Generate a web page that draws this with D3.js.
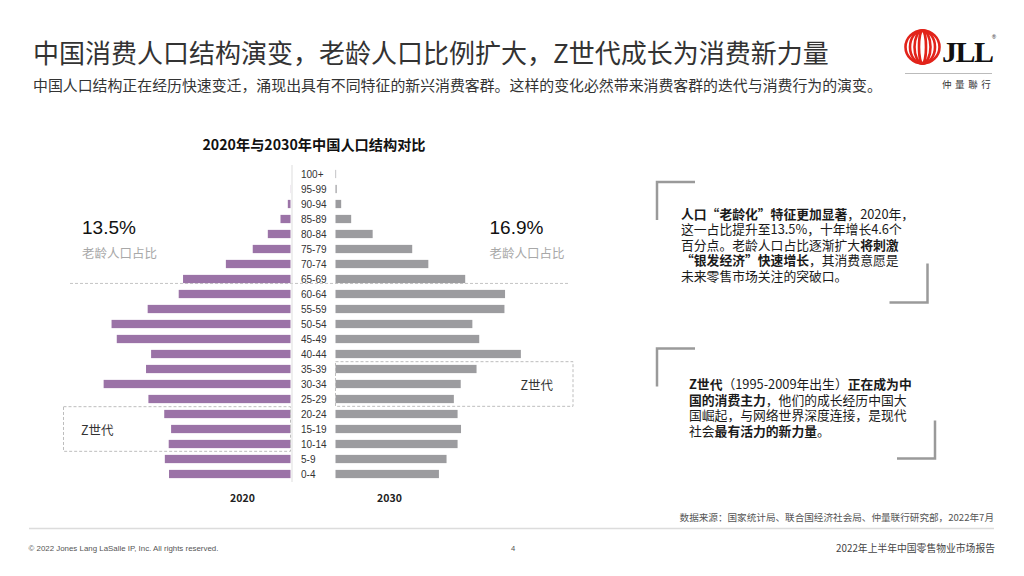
<!DOCTYPE html>
<html><head><meta charset="utf-8">
<script src="https://cdn.jsdelivr.net/npm/d3@7"></script>
<style>body{margin:0;background:#fff} svg{display:block}</style>
</head><body>
<svg id="c" width="1024" height="576"></svg>
<script>
// ---------- data ----------
const ageGroups = ["100+","95-99","90-94","85-89","80-84","75-79","70-74","65-69","60-64","55-59","50-54","45-49","40-44","35-39","30-34","25-29","20-24","15-19","10-14","5-9","0-4"];
const pop2020 = [0.0, 0.1, 1.8, 6.7, 15.2, 25.3, 43.3, 72.0, 74.9, 95.7, 119.9, 116.4, 93.4, 96.8, 125.2, 95.2, 84.6, 80.0, 81.6, 84.2, 81.4];
const pop2030 = [0.4, 0.8, 3.8, 10.5, 24.9, 51.4, 62.2, 86.9, 113.6, 113.2, 91.7, 96.3, 124.2, 94.5, 83.9, 79.3, 81.8, 84.1, 81.8, 74.4, 69.3];
const yearLabels = ["2020", "2030"];
const elderShare = ["13.5%", "16.9%"];
const elderLabel = "老龄人口占比";
const genZLabel = "Z世代";
const genZ2020 = ["20-24", "10-14"];
const genZ2030 = ["35-39", "25-29"];
const elderlyFrom = "65-69";

const title = "中国消费人口结构演变，老龄人口比例扩大，Z世代成长为消费新力量";
const subtitle = "中国人口结构正在经历快速变迁，涌现出具有不同特征的新兴消费客群。这样的变化必然带来消费客群的迭代与消费行为的演变。";
const chartTitle = "2020年与2030年中国人口结构对比";
const box1Lines = [
  [["人口“老龄化”特征更加显著", 1], ["，2020年，", 0]],
  [["这一占比提升至13.5%，十年增长4.6个", 0]],
  [["百分点。老龄人口占比逐渐扩大", 0], ["将刺激", 1]],
  [["“银发经济”快速增长", 1], ["，其消费意愿是", 0]],
  [["未来零售市场关注的突破口。", 0]]
];
const box2Lines = [
  [["Z世代", 1], ["（1995-2009年出生）", 0], ["正在成为中", 1]],
  [["国的消费主力", 1], ["，他们的成长经历中国大", 0]],
  [["国崛起，与网络世界深度连接，是现代", 0]],
  [["社会", 0], ["最有活力的新力量", 1], ["。", 0]]
];
const sourceText = "数据来源：国家统计局、联合国经济社会局、仲量联行研究部，2022年7月";
const copyright = "© 2022 Jones Lang LaSalle IP, Inc. All rights reserved.";
const pageNo = "4";
const reportName = "2022年上半年中国零售物业市场报告";

// ---------- drawing ----------
const svg = d3.select("#c");
const CJK = "'Noto Sans CJK SC', 'Noto Sans', sans-serif";
const LAT = "'Liberation Sans', Arial, sans-serif";
const purple = "#9b73a7", grey = "#9c9c9f";

// header
svg.append("text").attr("x", 33).attr("y", 51).attr("dominant-baseline", "central")
  .attr("font-family", CJK).attr("font-size", 26).attr("fill", "#333").text(title);
svg.append("text").attr("x", 33).attr("y", 84).attr("dominant-baseline", "central")
  .attr("font-family", CJK).attr("font-size", 14.9).attr("fill", "#333").text(subtitle);

// logo
const logo = svg.append("g");
[17, 12.5, 8, 3.5].forEach(rx => {
  logo.append("ellipse").attr("cx", 922.5).attr("cy", 47).attr("rx", rx).attr("ry", 16.5)
    .attr("fill", "none").attr("stroke", "#e2231a").attr("stroke-width", 2.6);
});
logo.append("text").attr("x", 942).attr("y", 62).attr("font-family", "'Liberation Serif', 'DejaVu Serif', serif")
  .attr("font-weight", 700).attr("font-size", 30).attr("letter-spacing", -1.5).attr("fill", "#111").text("JLL");
logo.append("text").attr("x", 992).attr("y", 39).attr("font-family", LAT).attr("font-size", 5.5).attr("fill", "#111").text("®");
logo.append("line").attr("x1", 905).attr("x2", 992).attr("y1", 73.5).attr("y2", 73.5).attr("stroke", "#bbb").attr("stroke-width", 1);
logo.append("text").attr("x", 942).attr("y", 84).attr("dominant-baseline", "central")
  .attr("font-family", CJK).attr("font-size", 9.5).attr("letter-spacing", 3.6).attr("fill", "#333").text("仲量聯行");

// chart
const y = d3.scaleBand().domain(ageGroups).range([166.5, 481.5]).paddingInner(0.45).paddingOuter(0.225);
const unit = 1.4925;
const xL = d3.scaleLinear().domain([0, 130]).range([290.5, 290.5 - 130 * unit]);
const xR = d3.scaleLinear().domain([0, 130]).range([335.5, 335.5 + 130 * unit]);

svg.append("text").attr("x", 314).attr("y", 144).attr("text-anchor", "middle").attr("dominant-baseline", "central")
  .attr("font-family", CJK).attr("font-weight", 700).attr("font-size", 14.2).attr("fill", "#111").text(chartTitle);

// dashed separator for elderly
const sepY = y(elderlyFrom) + y.bandwidth() + 0.3;
svg.append("line").attr("x1", 70).attr("x2", 569).attr("y1", sepY).attr("y2", sepY)
  .attr("stroke", "#c4c4c4").attr("stroke-dasharray", "3,2").attr("stroke-width", 1);

// center line
svg.append("line").attr("x1", 292).attr("x2", 292).attr("y1", 165).attr("y2", 482)
  .attr("stroke", "#ddd").attr("stroke-width", 1);

const rows = ageGroups.map((a, i) => ({age: a, v20: pop2020[i], v30: pop2030[i]}));
svg.append("g").selectAll("rect").data(rows).join("rect")
  .attr("x", d => xL(d.v20)).attr("y", d => y(d.age))
  .attr("width", d => xL(0) - xL(d.v20)).attr("height", y.bandwidth()).attr("fill", purple);
svg.append("g").selectAll("rect").data(rows).join("rect")
  .attr("x", xR(0)).attr("y", d => y(d.age))
  .attr("width", d => xR(d.v30) - xR(0)).attr("height", y.bandwidth()).attr("fill", grey);

svg.append("g").selectAll("text").data(ageGroups).join("text")
  .attr("x", 301).attr("y", d => y(d) + y.bandwidth() / 2).attr("dominant-baseline", "central")
  .attr("font-family", LAT).attr("font-size", 10).attr("fill", "#333").text(d => d);

// year labels
[[xL(0) - 48, yearLabels[0]], [xR(0) + 54, yearLabels[1]]].forEach(([x, t]) => {
  svg.append("text").attr("x", x).attr("y", 497).attr("text-anchor", "middle").attr("dominant-baseline", "central")
    .attr("font-family", CJK).attr("font-weight", 700).attr("font-size", 10.5).attr("fill", "#222").text(t);
});

// elderly share
[[82, elderShare[0]], [489.5, elderShare[1]]].forEach(([x, t]) => {
  svg.append("text").attr("x", x).attr("y", 233.5).attr("font-family", LAT).attr("font-size", 19).attr("fill", "#111").text(t);
  svg.append("text").attr("x", x).attr("y", 252).attr("dominant-baseline", "central")
    .attr("font-family", CJK).attr("font-size", 12.5).attr("fill", "#a8a8a8").text(elderLabel);
});

// Z generation boxes
const zL = {x0: 63.5, x1: xL(0), y0: y(genZ2020[0]) - 3.2, y1: y(genZ2020[1]) + y.bandwidth() + 3.2};
const zR = {x0: xR(0), x1: 573, y0: y(genZ2030[0]) - 3.2, y1: y(genZ2030[1]) + y.bandwidth() + 3.2};
[zL, zR].forEach(b => {
  svg.append("rect").attr("x", b.x0).attr("y", b.y0).attr("width", b.x1 - b.x0).attr("height", b.y1 - b.y0)
    .attr("fill", "none").attr("stroke", "#bdbdbd").attr("stroke-dasharray", "3,2").attr("stroke-width", 1);
});
svg.append("text").attr("x", 81).attr("y", (zL.y0 + zL.y1) / 2).attr("dominant-baseline", "central")
  .attr("font-family", CJK).attr("font-size", 12.5).attr("fill", "#333").text(genZLabel);
svg.append("text").attr("x", 520.5).attr("y", (zR.y0 + zR.y1) / 2).attr("dominant-baseline", "central")
  .attr("font-family", CJK).attr("font-size", 12.5).attr("fill", "#333").text(genZLabel);

// text boxes
function bracketBox(tl, br) {
  svg.append("path").attr("d", `M${tl.x + 38},${tl.y}H${tl.x}V${tl.y + tl.h}`)
    .attr("fill", "none").attr("stroke", "#9a9a9a").attr("stroke-width", 2.5);
  svg.append("path").attr("d", `M${br.x},${br.y - br.h}V${br.y}H${br.x - 38}`)
    .attr("fill", "none").attr("stroke", "#9a9a9a").attr("stroke-width", 2.5);
}
function textBlock(lines, x, y0, step) {
  const t = svg.append("text").attr("x", x).attr("y", y0)
    .attr("font-family", CJK).attr("font-size", 12.8).attr("fill", "#1a1a1a");
  lines.forEach((segs, i) => {
    segs.forEach(([s, b], j) => {
      const ts = t.append("tspan").attr("font-weight", b ? 700 : 400).text(s);
      if (j === 0) ts.attr("x", x).attr("y", y0 + i * step + 4.5);
    });
  });
}
bracketBox({x: 657, y: 182, h: 38}, {x: 927.5, y: 302.5, h: 39});
textBlock(box1Lines, 681, 214, 15.5);
bracketBox({x: 657, y: 348.5, h: 38}, {x: 935, y: 458.5, h: 38});
textBlock(box2Lines, 689, 384.5, 15.5);

// footer
svg.append("text").attr("x", 994).attr("y", 516.5).attr("text-anchor", "end").attr("dominant-baseline", "central")
  .attr("font-family", CJK).attr("font-size", 9.6).attr("fill", "#555").text(sourceText);
svg.append("line").attr("x1", 29).attr("x2", 994).attr("y1", 528.5).attr("y2", 528.5)
  .attr("stroke", "#dcdcdc").attr("stroke-width", 1.6);
svg.append("text").attr("x", 28.5).attr("y", 548).attr("dominant-baseline", "central")
  .attr("font-family", LAT).attr("font-size", 7.9).attr("fill", "#555").text(copyright);
svg.append("text").attr("x", 513).attr("y", 548).attr("text-anchor", "middle").attr("dominant-baseline", "central")
  .attr("font-family", LAT).attr("font-size", 7.6).attr("fill", "#555").text(pageNo);
svg.append("text").attr("x", 995).attr("y", 548).attr("text-anchor", "end").attr("dominant-baseline", "central")
  .attr("font-family", CJK).attr("font-size", 9.8).attr("fill", "#444").text(reportName);
</script>
</body></html>
